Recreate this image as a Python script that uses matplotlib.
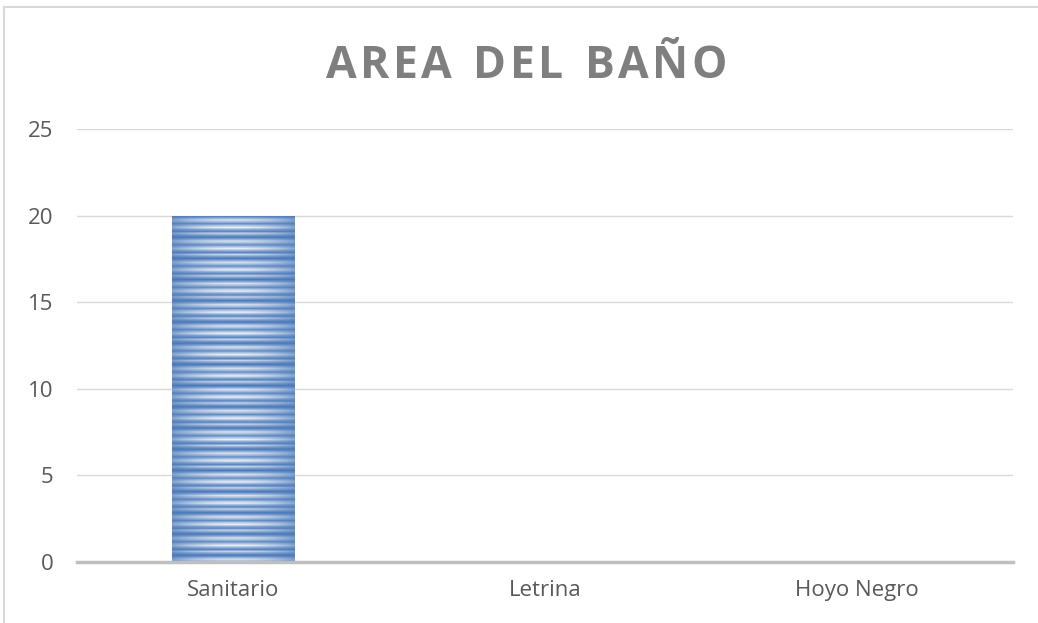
import numpy as np
import matplotlib
matplotlib.use("Agg")
import matplotlib.pyplot as plt
from matplotlib.lines import Line2D
from matplotlib.colors import LinearSegmentedColormap

categories = ["Sanitario", "Letrina", "Hoyo Negro"]
values = [20, 0, 0]
yticks = [0, 5, 10, 15, 20, 25]
title = "AREA DEL BAÑO"

W, H = 1038, 623
fig = plt.figure(figsize=(W / 100, H / 100), dpi=100)
fig.patch.set_facecolor("white")

# chart border (top and left visible)
fig.add_artist(Line2D([4 / W, 4 / W], [0, 1 - 7 / H], transform=fig.transFigure, color="#d9d9d9", lw=1.5))
fig.add_artist(Line2D([4 / W, 1], [1 - 7 / H, 1 - 7 / H], transform=fig.transFigure, color="#d9d9d9", lw=1.5))

left, right = 77 / W, 1013 / W
bottom, top = 1 - 562 / H, 1 - 129 / H
ax = fig.add_axes([left, bottom, right - left, top - bottom])
ax.set_facecolor("none")

x = np.arange(len(categories))
bars = ax.bar(x, values, width=0.394, color="#7fa3d6", zorder=2)

# striped fill clipped to the bar
stripe_rows = 180
pattern = np.array([0.0, 0.35, 0.8, 0.55, 0.15, 0.6, 0.9, 0.4, 0.1, 0.7, 0.3])
col = np.tile(pattern, stripe_rows // len(pattern) + 1)[:stripe_rows]
xs = np.linspace(-1, 1, 60)
edge = np.abs(xs) ** 2
img = np.clip(col[:, None] * (1 - 0.6 * edge[None, :]), 0, 1)
cmap = LinearSegmentedColormap.from_list("stripe", ["#4a78b8", "#e8f0fa"])
for b, v in zip(bars, values):
    if v > 0:
        im = ax.imshow(img, cmap=cmap, aspect="auto", interpolation="bilinear",
                       extent=[b.get_x(), b.get_x() + b.get_width(), 0, v], zorder=3)
        im.set_clip_path(b)

ax.set_xlim(-0.5, len(categories) - 0.5)
ax.set_ylim(0, 25)
ax.set_yticks(yticks)
ax.set_yticklabels([str(t) for t in yticks])
ax.set_xticks(x)
ax.set_xticklabels(categories)
ax.yaxis.grid(True, color="#d9d9d9", lw=1, zorder=0)
ax.set_axisbelow(True)
for s in ["top", "right", "left"]:
    ax.spines[s].set_visible(False)
ax.spines["bottom"].set_color("#bfbfbf")
ax.spines["bottom"].set_linewidth(2.5)
ax.spines["bottom"].set_zorder(4)
ax.tick_params(axis="both", length=0, colors="#595959", labelsize=16)
ax.tick_params(axis="y", pad=17)
ax.tick_params(axis="x", pad=13)
for lab in ax.get_xticklabels() + ax.get_yticklabels():
    lab.set_fontfamily("Open Sans")

# title with letter spacing
renderer = fig.canvas.get_renderer()
fs = 32
chars = list(title)
widths = []
for c in chars:
    t = fig.text(0, 0, c if c != " " else "n", fontsize=fs, fontweight="bold", family="Open Sans")
    bb = t.get_window_extent(renderer)
    widths.append(bb.width * (0.5 if c == " " else 1.0))
    t.remove()
target_left, target_right = 326, 727
spacing = (target_right - target_left - sum(widths)) / (len(chars) - 1)
xpos = target_left
ybase = H - 78
for c, w in zip(chars, widths):
    if c != " ":
        fig.text(xpos / W, ybase / H, c, ha="left", va="baseline", fontsize=fs,
                 fontweight="bold", color="#7f7f7f", family="Open Sans")
    xpos += w + spacing

fig.savefig("out.png", dpi=100)
